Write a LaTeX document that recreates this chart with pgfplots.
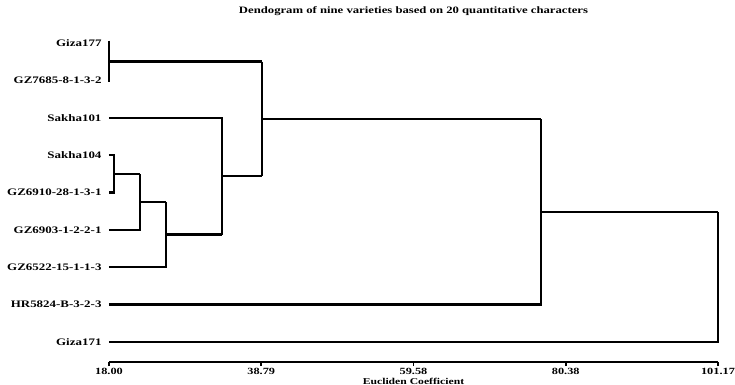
\documentclass[border=0pt]{standalone}
\usepackage{fontspec}
\setmainfont{Liberation Serif}[FakeStretch=1.3]
\usepackage{pgfplots}
\pgfplotsset{compat=1.18}
\begin{document}
\begin{tikzpicture}
\begin{axis}[
  at={(0,0)}, anchor=south west,
  scale only axis, width=609bp, height=326.5bp,
  xmin=18, xmax=101.17, ymin=0.465, ymax=9.2,
  clip=false,
  separate axis lines,
  axis x line*=bottom,
  axis y line*=left,
  y axis line style={draw=none},
  x axis line style={line width=1.8pt,-},
  xtick={18,38.79,59.58,80.38,101.17},
  xticklabels={\textbf{18.00},\textbf{38.79},\textbf{59.58},\textbf{80.38},\textbf{101.17}},
  minor x tick num=4,
  tick align=outside,
  major tick length=4bp, minor tick length=3bp,
  x tick style={line width=1.6pt,black},
  ytick={1,2,3,4,5,6,7,8,9},
  yticklabels={\textbf{Giza171},\textbf{HR5824-B-3-2-3},\textbf{GZ6522-15-1-1-3},\textbf{GZ6903-1-2-2-1},\textbf{GZ6910-28-1-3-1},\textbf{Sakha104},\textbf{Sakha101},\textbf{GZ7685-8-1-3-2},\textbf{Giza177}},
  y tick style={draw=none},
  yticklabel style={font=\fontsize{10}{11}\selectfont},
  xticklabel style={font=\fontsize{9.5}{10}\selectfont, inner sep=0pt, yshift=-2bp},
  title={\textbf{Dendogram of nine varieties based on 20 quantitative characters}},
  title style={font=\fontsize{9.8}{10}\selectfont, at={(rel axis cs:0.5,1)}, anchor=center, yshift=18.5bp},
  xlabel={\textbf{Eucliden Coefficient}},
  xlabel style={font=\fontsize{9}{10}\selectfont, inner sep=0pt, at={(rel axis cs:0.5,0)}, anchor=south, yshift=-22.5bp},
  cycle list={{black,solid,line width=2.4pt,line join=miter,no marks}},
  every axis plot post/.append style={black,solid,line width=2.4pt,no marks},
]
% Giza177 + GZ7685
\addplot coordinates {(18,9.06) (18,7.96)};
\addplot coordinates {(18,8.5) (38.9,8.5)};
% Sakha104 + GZ6910
\addplot coordinates {(18,6) (18.68,6) (18.68,5) (18,5)};
\addplot coordinates {(18.68,5.5) (22.23,5.5)};
% + GZ6903
\addplot coordinates {(18,4) (22.23,4) (22.23,5.5)};
\addplot coordinates {(22.23,4.75) (25.78,4.75)};
% + GZ6522
\addplot coordinates {(18,3) (25.78,3) (25.78,4.75)};
\addplot coordinates {(25.78,3.875) (33.43,3.875)};
% + Sakha101
\addplot coordinates {(18,7) (33.43,7) (33.43,3.875)};
\addplot coordinates {(33.43,5.4375) (38.9,5.4375)};
% + Giza177 group
\addplot coordinates {(38.9,8.5) (38.9,5.4375)};
\addplot coordinates {(38.9,6.97) (77,6.97)};
% + HR5824
\addplot coordinates {(18,2) (77,2) (77,6.97)};
\addplot coordinates {(77,4.484) (101.17,4.484)};
% + Giza171
\addplot coordinates {(18,1) (101.17,1) (101.17,4.484)};
\end{axis}
\pgfresetboundingbox
\useasboundingbox (-109bp,-23bp) rectangle (626bp,362bp);
\end{tikzpicture}
\end{document}
